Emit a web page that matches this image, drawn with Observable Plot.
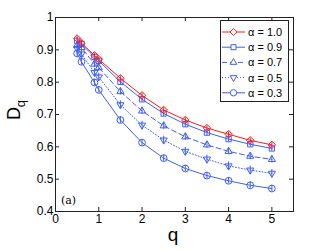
<!DOCTYPE html>
<html>
<head>
<meta charset="utf-8">
<script src="https://cdn.jsdelivr.net/npm/d3@7"></script>
<script src="https://cdn.jsdelivr.net/npm/@observablehq/plot@0.6"></script>
<style>
  html, body { margin: 0; padding: 0; background: #fff; }
  #chart { position: relative; width: 324px; height: 251px; }
  svg { font-family: "Liberation Sans", Arial, sans-serif; }
</style>
</head>
<body>
<div id="chart"></div>
<script>
// ---- data ----
const qValues = [0.5, 0.6, 0.9, 1.0, 1.5, 2, 2.5, 3, 3.5, 4, 4.5, 5];
const alphaLabels = ["α = 1.0", "α = 0.9", "α = 0.7", "α = 0.5", "α = 0.3"];
const dAlpha10 = [0.935, 0.921, 0.883, 0.871, 0.812, 0.759, 0.714, 0.683, 0.658, 0.639, 0.620, 0.606];
const dAlpha09 = [0.928, 0.918, 0.878, 0.866, 0.801, 0.747, 0.703, 0.670, 0.644, 0.624, 0.608, 0.595];
const dAlpha07 = [0.914, 0.907, 0.856, 0.845, 0.771, 0.711, 0.665, 0.631, 0.606, 0.586, 0.571, 0.561];
const dAlpha05 = [0.904, 0.887, 0.830, 0.816, 0.730, 0.667, 0.621, 0.586, 0.562, 0.541, 0.528, 0.518];
const dAlpha03 = [0.889, 0.863, 0.799, 0.776, 0.683, 0.613, 0.565, 0.533, 0.511, 0.495, 0.481, 0.471];
const errHalf = [0.007, 0.009, 0.011, 0.012, 0.010];
const xTicks = [0, 1, 2, 3, 4, 5];
const yTicks = [0.4, 0.5, 0.6, 0.7, 0.8, 0.9, 1];

// ---- styles ----
const RED = "#ff1a1a", BLUE = "#3f5ff2";
const styles = [
  {color: RED,  symbol: "diamond2", rotate: 0,   dash: null},
  {color: BLUE, symbol: "square2",  rotate: 0,   dash: null},
  {color: BLUE, symbol: "triangle2", rotate: 0,  dash: "5,3"},
  {color: BLUE, symbol: "triangle2", rotate: 180, dash: "1,2"},
  {color: BLUE, symbol: "circle",   rotate: 0,   dash: null}
];
const seriesVals = [dAlpha10, dAlpha09, dAlpha07, dAlpha05, dAlpha03];

const rows = [];
seriesVals.forEach((vals, s) => vals.forEach((v, i) => rows.push({s, q: qValues[i], v, e: errHalf[s]})));

const W = 324, H = 251, mL = 55, mR = 31, mT = 17, mB = 40;
const plotH = H - mT - mB;

const marks = [];
for (let s = seriesVals.length - 1; s >= 0; s--) {
  const st = styles[s];
  const d = rows.filter(r => r.s === s);
  marks.push(Plot.line(d, {x: "q", y: "v", stroke: st.color, strokeWidth: 1, strokeDasharray: st.dash ?? undefined}));
  marks.push(Plot.ruleX(d, {x: "q", y1: r => r.v - r.e, y2: r => r.v + r.e, stroke: st.color, strokeWidth: 1}));
  marks.push(Plot.dot(d, {x: "q", y: "v", symbol: () => st.symbol, r: 3.4, stroke: st.color, fill: "none", strokeWidth: 1, rotate: st.rotate}));
}

const plot = Plot.plot({
  width: W, height: H,
  marginLeft: mL, marginRight: mR, marginTop: mT, marginBottom: mB,
  style: {fontFamily: "'Liberation Sans', Arial, sans-serif", fontSize: "12px", background: "#fff", color: "#000"},
  x: {domain: [0, 5.5]},
  y: {domain: [0.4, 1]},
  symbol: {type: "identity"},
  marks: [
    ...marks,
    Plot.frame({stroke: "#222", strokeWidth: 1}),
    Plot.ruleX(xTicks, {x: d => d, insetTop: plotH - 4, stroke: "#222"}),
    Plot.ruleX(xTicks, {x: d => d, insetBottom: plotH - 4, stroke: "#222"}),
    Plot.ruleY(yTicks, {y: d => d, insetRight: (W - mL - mR) - 4, stroke: "#222"}),
    Plot.ruleY(yTicks, {y: d => d, insetLeft: (W - mL - mR) - 4, stroke: "#222"}),
    Plot.axisX(xTicks, {tickSize: 0, tickPadding: 3, label: null, fontSize: 12}),
    Plot.axisY(yTicks, {tickSize: 0, tickPadding: 2, label: null, fontSize: 12, tickFormat: d => String(d)})
  ]
});

document.getElementById("chart").appendChild(plot);

const svg = d3.select(plot);
svg.append("text")
  .attr("x", 61).attr("y", 204)
  .attr("text-anchor", "start")
  .style("font-family", "'DejaVu Serif', 'Liberation Serif', serif")
  .style("font-size", "11px")
  .attr("fill", "#000")
  .text("(a)");
svg.append("text")
  .attr("x", 173).attr("y", 241)
  .attr("text-anchor", "middle")
  .attr("font-size", 19)
  .attr("fill", "#000")
  .text("q");
const yl = svg.append("text")
  .attr("transform", "translate(20,110) rotate(-90)")
  .attr("text-anchor", "middle")
  .attr("font-size", 18)
  .attr("fill", "#000");
yl.append("tspan").text("D");
yl.append("tspan").attr("font-size", 13).attr("dy", 5).text("q");

// legend
const lg = svg.append("g").attr("text-anchor", "start");
lg.append("rect").attr("x", 220.5).attr("y", 20.5).attr("width", 68).attr("height", 81)
  .attr("fill", "#fff").attr("stroke", "#222").attr("stroke-width", 1);
const symGen = {
  diamond2: d3.symbolDiamond2, square2: d3.symbolSquare2, triangle2: d3.symbolTriangle2, circle: d3.symbolCircle
};
alphaLabels.forEach((lab, i) => {
  const st = styles[i];
  const cy = 32 + i * 15.2;
  lg.append("line").attr("x1", 222).attr("x2", 245).attr("y1", cy).attr("y2", cy)
    .attr("stroke", st.color).attr("stroke-width", 1)
    .attr("stroke-dasharray", st.dash);
  lg.append("path")
    .attr("d", d3.symbol(symGen[st.symbol], Math.PI * 3.2 * 3.2)())
    .attr("transform", `translate(233.5,${cy}) rotate(${st.rotate})`)
    .attr("fill", "#fff").attr("stroke", st.color).attr("stroke-width", 1);
  lg.append("text").attr("x", 248).attr("y", cy + 4).attr("text-anchor", "start")
    .attr("font-size", 11).attr("fill", "#000").text(lab);
});
</script>
</body>
</html>
